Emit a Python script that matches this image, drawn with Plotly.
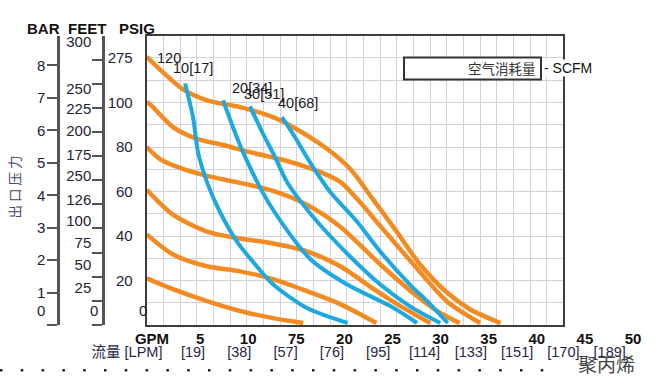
import plotly.graph_objects as go

W, H = 659, 391

# ---------------- data (flow in GPM, discharge pressure in PSIG) ----------------
p120_x = [0, 1.44, 3.92, 6.51, 10.08, 13.64, 16.2, 19.5, 21.96, 24.4, 27.0, 29.5, 32.4, 34.9, 38.2]
p120_y = [120.5, 114.8, 105.9, 101.0, 97.9, 93.4, 88.0, 79.1, 70.2, 56.7, 42.0, 27.3, 14.7, 7.1, 0.9]
p100_x = [0, 0.36, 2.84, 5.43, 8.24, 11.16, 15.15, 18.7, 20.9, 23.0, 25.2, 28.8, 32.4, 36.0]
p100_y = [100.1, 99.2, 88.9, 83.6, 80.9, 77.7, 73.7, 68.8, 64.3, 55.4, 44.6, 27.3, 10.7, 0.9]
p80_x = [0, 1.44, 3.6, 6.51, 10.08, 13.64, 17.3, 20.9, 25.2, 28.8, 31.7, 33.8]
p80_y = [80.0, 74.6, 70.6, 67.0, 63.9, 60.3, 54.1, 44.2, 27.3, 14.3, 5.4, 0.9]
p60_x = [0, 2.84, 6.51, 10.08, 13.64, 17.3, 20.9, 24.4, 27.4, 30.6]
p60_y = [60.8, 49.6, 42.0, 38.9, 36.6, 33.1, 26.4, 16.5, 8.5, 0.9]
p40_x = [0, 2.84, 6.51, 10.08, 13.64, 17.3, 20.9, 24.8]
p40_y = [40.7, 31.7, 26.4, 24.1, 20.6, 15.2, 9.4, 0.9]
p20_x = [0, 2.84, 6.51, 10.08, 13.64, 16.9]
p20_y = [21.0, 16.1, 10.7, 6.3, 3.1, 0.9]

s10_x = [4.14, 5.0, 5.54, 6.62, 7.9, 9.75, 11.7, 13.64, 17.3, 21.7]
s10_y = [108.6, 93.4, 77.7, 63.0, 50.9, 37.5, 27.3, 18.3, 7.6, 0.9]
s20_x = [8.24, 9.32, 10.4, 13.1, 17.6, 21.6, 26.3, 29.2]
s20_y = [101.0, 88.9, 77.7, 55.4, 29.9, 18.3, 8.5, 0.9]
s30_x = [11.16, 12.47, 13.86, 15.15, 18.4, 21.96, 25.2, 28.4, 31.7]
s30_y = [98.3, 86.7, 75.5, 64.3, 46.5, 30.8, 18.3, 8.5, 0.9]
s40_x = [14.6, 16.0, 17.6, 19.8, 22.7, 25.2, 28.4, 30.6, 32.5]
s40_y = [93.4, 84.5, 73.3, 59.9, 46.5, 33.1, 18.3, 9.4, 0.9]

pressure_label = "120"
scfm_labels = ["10[17]", "20[34]", "30[51]", "40[68]"]

gpm_ticks = [0, 5, 10, 15, 20, 25, 30, 35, 40, 45, 50]
gpm_text = ["GPM", "5", "10", "75", "20", "25", "30", "35", "40", "45", "50"]
lpm_ticks = [5, 10, 15, 20, 25, 30, 35, 40, 45, 50]
lpm_text = ["[19]", "[38]", "[57]", "[76]", "[95]", "[114]", "[133]", "[151]", "[170]", "[189]"]
bar_ticks = [0, 1, 2, 3, 4, 5, 6, 7, 8]
bar_text = ["0", "1", "2", "3", "4", "5", "6", "7", "8"]
feet_ticks = [0, 25, 50, 75, 100, 125, 150, 175, 200, 225, 250, 275]
feet_text = ["25", "50", "75", "100", "126", "250", "175", "200", "225", "250", "300"]
psig_ticks = [0, 10, 20, 30, 40, 50, 60, 70, 80, 90, 100, 110, 120, 130]
psig_text = ["", "", "20", "", "40", "", "60", "", "80", "", "100", "", "275", ""]

# ---------------- styling / layout helpers ----------------
ORANGE = "#F28C22"
BLUE = "#1EA8E0"
GRID = "#d5d0db"
AX = "#3d3d3d"
LBL = "#1e2236"


def fx(px):
    return px / W


def fy(py):
    return 1 - py / H


PL, PR, PT, PB = 146.7, 563.4, 33.0, 324.5

fig = go.Figure()
for xs, ys in [(p120_x, p120_y), (p100_x, p100_y), (p80_x, p80_y),
               (p60_x, p60_y), (p40_x, p40_y), (p20_x, p20_y)]:
    fig.add_trace(go.Scatter(x=xs, y=ys, mode="lines", hoverinfo="skip", showlegend=False,
                             line=dict(color=ORANGE, width=4.5, shape="spline", smoothing=0.8)))
for xs, ys in [(s10_x, s10_y), (s20_x, s20_y), (s30_x, s30_y), (s40_x, s40_y)]:
    fig.add_trace(go.Scatter(x=xs, y=ys, mode="lines", hoverinfo="skip", showlegend=False,
                             line=dict(color=BLUE, width=4, shape="spline", smoothing=0.8)))

# transparent anchor traces so the extra scale axes get drawn
CLEAR = dict(size=1, color="rgba(0,0,0,0)")
fig.add_trace(go.Scatter(x=[1] * len(bar_ticks), y=bar_ticks, xaxis="x", yaxis="y2",
                         mode="markers", marker=CLEAR, hoverinfo="skip", showlegend=False))
fig.add_trace(go.Scatter(x=[1] * len(feet_ticks), y=feet_ticks, xaxis="x", yaxis="y3",
                         mode="markers", marker=CLEAR, hoverinfo="skip", showlegend=False))
fig.add_trace(go.Scatter(x=gpm_ticks, y=[0.5] * len(gpm_ticks), xaxis="x2", yaxis="y5",
                         mode="markers", marker=CLEAR, hoverinfo="skip", showlegend=False))
fig.add_trace(go.Scatter(x=lpm_ticks, y=[0.5] * len(lpm_ticks), xaxis="x3", yaxis="y6",
                         mode="markers", marker=CLEAR, hoverinfo="skip", showlegend=False))

# label positions (scale units) for the left-hand scales
bar_label_at = [0.44, 1, 2, 3, 4, 5, 6, 7, 8]
feet_label_at = [38.6, 62.2, 84.8, 108.5, 130.1, 154.7, 176.3, 201.0, 223.6, 245.2, 293.5]

gpm_px0, gpm_scale = 152.0, 9.62     # px of 0 GPM, px per GPM on printed GPM row
lpm_px0, lpm_scale = 146.7, 9.26
x2d = (130.0, 655.0)
x3d = (70.0, 655.0)

tick_font = dict(family="Liberation Sans, Arial", size=15, color=LBL)

fig.update_layout(
    width=W, height=H, margin=dict(l=0, r=0, t=0, b=0),
    paper_bgcolor="white", plot_bgcolor="white", showlegend=False,
    xaxis=dict(domain=[fx(PL), fx(PR)], range=[0, 45], dtick=1.8, tick0=0,
               showgrid=True, gridcolor=GRID, gridwidth=1.3, zeroline=False,
               showticklabels=False, ticks="", showline=True, mirror=True,
               linecolor=AX, linewidth=2),
    yaxis=dict(domain=[fy(PB), fy(PT)], range=[0, 130], tickmode="array",
               tickvals=psig_ticks, ticktext=psig_text, showgrid=True, gridcolor=GRID,
               gridwidth=1.3, zeroline=False, ticks="outside", ticklen=9,
               tickcolor="rgba(0,0,0,0)", showline=True, mirror=True,
               linecolor=AX, linewidth=2, tickfont=tick_font),
    yaxis2=dict(overlaying="y", anchor="free", position=fx(58), side="left",
                range=[0, (PB - PT) / 32.69], tickmode="array", tickvals=bar_label_at,
                ticktext=bar_text, ticks="outside", ticklen=9, tickcolor="rgba(0,0,0,0)",
                minor=dict(tickvals=bar_ticks, ticks="outside", ticklen=10, tickwidth=2,
                           tickcolor="#555555", showgrid=False),
                showgrid=False, zeroline=False, showline=True, linecolor="#555555",
                linewidth=2.5, tickfont=tick_font),
    yaxis3=dict(overlaying="y", anchor="free", position=fx(103), side="left",
                range=[0, (PB - PT) / 0.9727], tickmode="array", tickvals=feet_label_at,
                ticktext=feet_text, ticks="outside", ticklen=8, tickcolor="rgba(0,0,0,0)",
                minor=dict(tickvals=feet_ticks, ticks="outside", ticklen=10, tickwidth=2,
                           tickcolor="#555555", showgrid=False),
                showgrid=False, zeroline=False, showline=True, linecolor="#555555",
                linewidth=2.5, tickfont=tick_font),
    xaxis2=dict(domain=[fx(x2d[0]), fx(x2d[1])], anchor="y5",
                range=[(x2d[0] - gpm_px0) / gpm_scale, (x2d[1] - gpm_px0) / gpm_scale],
                tickmode="array", tickvals=gpm_ticks, ticktext=gpm_text, ticks="",
                showgrid=False, zeroline=False, showline=False,
                tickfont=dict(family="Liberation Sans, Arial", size=15, color="#111111",
                              weight="bold")),
    yaxis5=dict(domain=[fy(328), fy(327)], anchor="x2", range=[0, 1], visible=False),
    xaxis3=dict(domain=[fx(x3d[0]), fx(x3d[1])], anchor="y6",
                range=[(x3d[0] - lpm_px0) / lpm_scale, (x3d[1] - lpm_px0) / lpm_scale],
                tickmode="array", tickvals=[-2.13] + lpm_ticks,
                ticktext=["流量 [LPM]"] + lpm_text, ticks="",
                showgrid=False, zeroline=False, showline=False,
                tickfont=dict(family="Liberation Sans, Noto Sans CJK SC", size=14.5,
                              color="#1f2747")),
    yaxis6=dict(domain=[fy(341), fy(340)], anchor="x3", range=[0, 1], visible=False),
)

ann = []
CENTER = dict(xanchor="center", yanchor="middle", showarrow=False)
# curve labels inside the chart
ann.append(dict(x=2.41, y=119.8, xref="x", yref="y", text=pressure_label, **CENTER,
                font=dict(family="Liberation Sans, Arial", size=14.5, color="#1a1a1a")))
for t, xx, yy in zip(scfm_labels, [5.0, 11.4, 12.7, 16.3], [115.3, 106.4, 103.7, 99.7]):
    ann.append(dict(x=xx, y=yy, xref="x", yref="y", text=t, **CENTER,
                    font=dict(family="Liberation Sans, Arial", size=14.5, color="#1a1a1a")))
# axis headers
for t, cx in [("BAR", 43.5), ("FEET", 86.5), ("PSIG", 136.5)]:
    ann.append(dict(x=fx(cx), y=fy(26), xref="paper", yref="paper", text=t, **CENTER,
                    font=dict(family="Liberation Sans, Arial", size=15, color="#111111",
                              weight="bold")))
# stray zero labels
for cx in [94, 143]:
    ann.append(dict(x=fx(cx), y=fy(310), xref="paper", yref="paper", text="0",
                    **CENTER, font=tick_font))
# legend box text
ann.append(dict(x=fx(538), y=fy(66), xref="paper", yref="paper", text="空气消耗量",
                xanchor="right", yanchor="middle", showarrow=False,
                font=dict(family="Noto Sans CJK SC", size=13.5, color="#333333")))
ann.append(dict(x=fx(543), y=fy(66), xref="paper", yref="paper", text="- SCFM",
                xanchor="left", yanchor="middle", showarrow=False, bgcolor="white",
                borderpad=0,
                font=dict(family="Liberation Sans, Arial", size=14, color="#111111")))
# vertical axis title
ann.append(dict(x=fx(14), y=fy(186), xref="paper", yref="paper", text="出 口 压 力",
                textangle=-90, **CENTER,
                font=dict(family="Noto Sans CJK SC", size=13.5, color="#3e4a6e")))
# material name
ann.append(dict(x=fx(606), y=fy(363), xref="paper", yref="paper", text="聚丙烯",
                **CENTER, font=dict(family="Noto Sans CJK SC", size=19, color="#444444")))
fig.update_layout(annotations=ann)

fig.update_layout(shapes=[
    dict(type="rect", xref="paper", yref="paper", x0=fx(404), x1=fx(541), y0=fy(77),
         y1=fy(55), line=dict(color="#333333", width=2), fillcolor="white", layer="above"),
    dict(type="line", xref="paper", yref="paper", x0=0, x1=fx(561), y0=fy(370),
         y1=fy(370), line=dict(color="#222222", width=2.5, dash="2.5px,18.3px")),
])

fig.write_html("out.html", config={"displayModeBar": False},
               post_script="document.body.style.margin='0';")
